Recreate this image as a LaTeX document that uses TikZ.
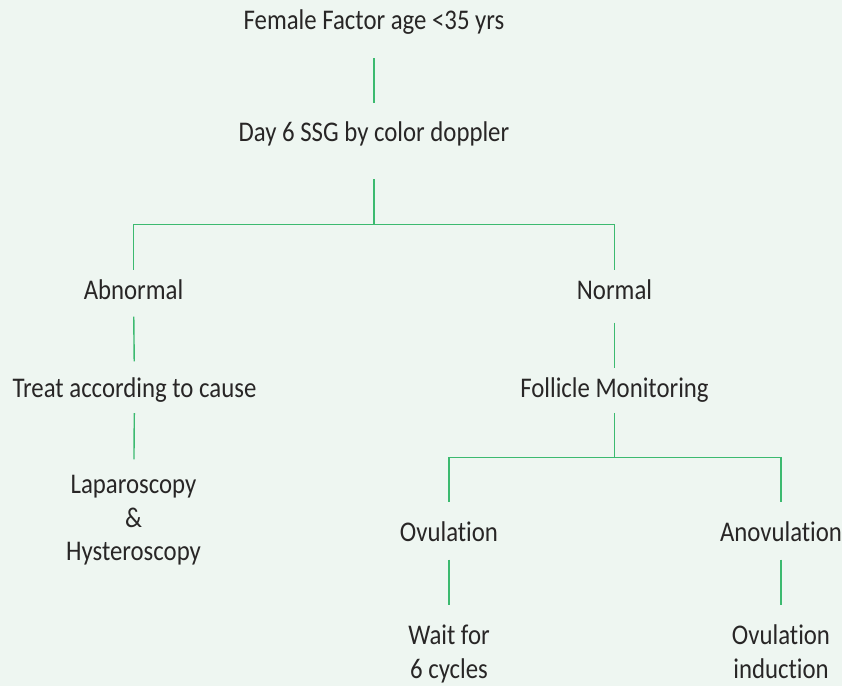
\documentclass[tikz,border=0pt]{standalone}
\usepackage{fontspec}
\setmainfont{Carlito}[Ligatures=NoCommon, FakeStretch=0.87]
\definecolor{paper}{RGB}{238,246,241}
\definecolor{linkgreen}{RGB}{60,186,112}
\definecolor{ink}{RGB}{40,38,38}
\begin{document}
\begin{tikzpicture}[x=1pt,y=1pt,
  label text/.style={inner sep=0pt, anchor=base, text=ink,
    font=\fontsize{28.5}{33.7}\selectfont, text height=18pt, text depth=0pt},
  multi text/.style={inner sep=0pt, anchor=north, text=ink, align=center,
    font=\fontsize{28.5}{33.7}\selectfont},
  link/.style={draw=linkgreen, line width=1.4pt}]
  % canvas
  \fill[paper] (0,0) rectangle (842,686);
  \useasboundingbox (0,0) rectangle (842,686);

  % text nodes (y measured from the bottom edge)
  \node[label text] (top)   at (374,656.7) {Female Factor age <35 yrs};
  \node[label text] (day6)  at (374,544.3) {Day 6 SSG by color doppler};
  \node[label text] (abn)   at (133.5,386) {Abnormal};
  \node[label text] (norm)  at (614.5,386) {Normal};
  \node[label text] (treat) at (134.5,288.5) {Treat according to cause};
  \node[label text] (foll)  at (614.5,289) {Follicle Monitoring};
  \node[multi text] (lap)   at (133.5,211) {Laparoscopy\\\&\\Hysteroscopy};
  \node[label text] (ovu)   at (449,144.3) {Ovulation};
  \node[label text] (anov)  at (781,144.3) {Anovulation};
  \node[multi text] (wait)  at (449,61.5) {Wait for\\6 cycles};
  \node[multi text] (induc) at (781,61.5) {Ovulation\\induction};

  % branching points
  \coordinate (split1) at (374,461.7);
  \coordinate (split2) at (614.5,228.7);

  % connectors
  \draw[link, shorten <=29pt, shorten >=20.4pt] (top) -- (day6);
  \draw[link, shorten <=37.6pt] (day6) -- (split1);
  \draw[link, shorten <=12pt] (abn) |- (split1);
  \draw[link, shorten <=12pt] (norm) |- (split1);
  \draw[link, shorten <=16.5pt, shorten >=18pt] (abn) -- (treat);
  \draw[link, shorten <=22.5pt, shorten >=11pt] (norm) -- (foll);
  \draw[link, shorten <=15.4pt, shorten >=15.6pt] (treat) -- (lap);
  \draw[link, shorten <=15.6pt] (foll) -- (split2);
  \draw[link, shorten <=22pt] (ovu) |- (split2);
  \draw[link, shorten <=22pt] (anov) |- (split2);
  \draw[link, shorten <=17.6pt, shorten >=20pt] (ovu) -- (wait);
  \draw[link, shorten <=17.6pt, shorten >=20pt] (anov) -- (induc);
\end{tikzpicture}
\end{document}
